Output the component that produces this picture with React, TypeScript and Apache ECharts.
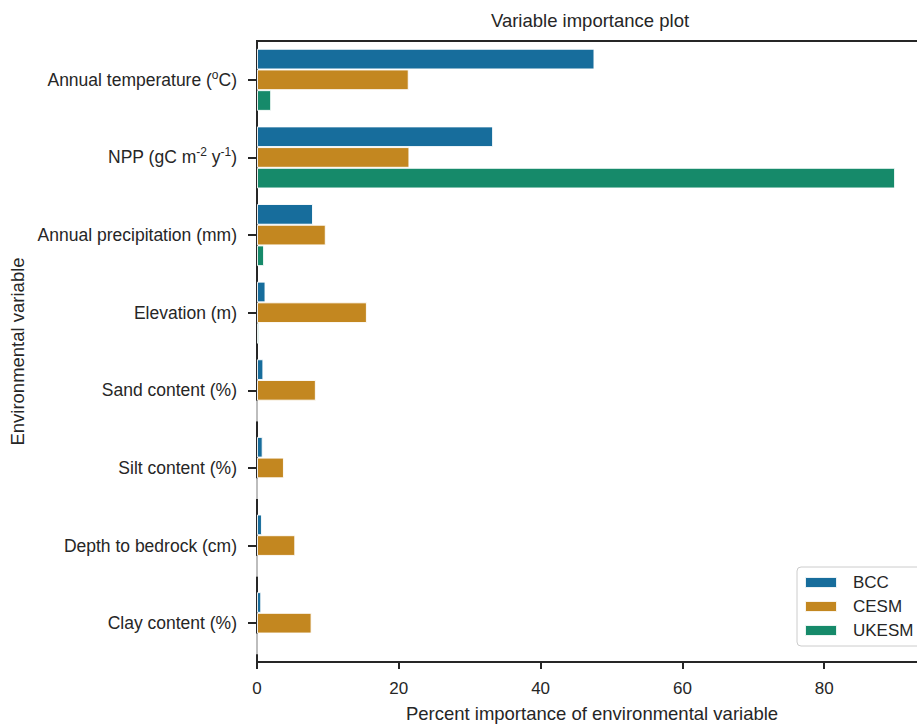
import React, { useEffect, useRef } from "react";
import * as echarts from "echarts";

const categories = [
  "Annual temperature (oC)",
  "NPP (gC m-2 y-1)",
  "Annual precipitation (mm)",
  "Elevation (m)",
  "Sand content (%)",
  "Silt content (%)",
  "Depth to bedrock (cm)",
  "Clay content (%)",
];
const seriesNames = ["BCC", "CESM", "UKESM"];
const bccValues = [47.6, 33.3, 7.9, 1.2, 0.9, 0.8, 0.7, 0.6];
const cesmValues = [21.4, 21.5, 9.7, 15.5, 8.3, 3.8, 5.4, 7.7];
const ukesmValues = [2.0, 90.0, 1.0, 0.3, 0, 0, 0, 0];
const xTicks = [0, 20, 40, 60, 80];
const colors = ["#176d9c", "#c38720", "#168a6a"];

const FONT = "'Liberation Sans', Arial, Helvetica, sans-serif";
const INK = "#262626";

function fmtLabel(v: string): string {
  if (v === "Annual temperature (oC)") {
    return "{n|Annual temperature (}{s|o}{n|C)}";
  }
  if (v === "NPP (gC m-2 y-1)") {
    return "{n|NPP (gC m}{s|-2}{n| y}{s|-1}{n|)}";
  }
  return "{n|" + v + "}";
}

export default function App() {
  const ref = useRef<HTMLDivElement>(null);
  useEffect(() => {
    if (!ref.current) return;
    const chart = echarts.init(ref.current, undefined, { renderer: "svg" });
    const allData = [bccValues, cesmValues, ukesmValues];
    chart.setOption({
      animation: false,
      backgroundColor: "#ffffff",
      textStyle: { fontFamily: FONT },
      graphic: [
        {
          type: "text",
          x: 590,
          y: 20,
          style: {
            text: "Variable importance plot",
            fontFamily: FONT,
            fontSize: 18.5,
            fill: INK,
            textAlign: "center",
            textVerticalAlign: "middle",
          },
        },
      ],
      grid: {
        left: 257,
        top: 41,
        right: 8,
        bottom: 63,
        show: true,
        borderColor: INK,
        borderWidth: 2,
        containLabel: false,
        outerBoundsMode: "none",
      },
      legend: {
        data: seriesNames,
        orient: "vertical",
        left: 797,
        top: 567,
        padding: [7, 16, 7, 7],
        itemWidth: 32,
        itemHeight: 11,
        itemGap: 7,
        icon: "rect",
        borderColor: "#cccccc",
        borderWidth: 1,
        borderRadius: 4,
        backgroundColor: "rgba(255,255,255,0.85)",
        textStyle: {
          fontFamily: FONT,
          fontSize: 17,
          color: INK,
          padding: [0, 0, 0, 11],
        },
      },
      xAxis: {
        type: "value",
        min: 0,
        max: 94.5,
        interval: 20,
        name: "Percent importance of environmental variable",
        nameLocation: "middle",
        nameGap: 42,
        nameTextStyle: { fontFamily: FONT, fontSize: 18.5, color: INK },
        axisLine: { show: true, lineStyle: { color: INK, width: 2 } },
        axisTick: {
          show: true,
          length: 7,
          lineStyle: { color: INK, width: 2 },
          customValues: xTicks,
        },
        axisLabel: {
          fontFamily: FONT,
          fontSize: 17,
          color: INK,
          margin: 18,
          customValues: xTicks,
        },
        splitLine: { show: false },
      },
      yAxis: {
        type: "category",
        inverse: true,
        data: categories,
        name: "Environmental variable",
        nameLocation: "middle",
        nameRotate: 90,
        nameGap: 230,
        nameTextStyle: { fontFamily: FONT, fontSize: 18.5, color: INK },
        axisLine: { show: true, lineStyle: { color: INK, width: 2 } },
        axisTick: {
          show: true,
          alignWithLabel: true,
          length: 9,
          lineStyle: { color: INK, width: 2 },
        },
        axisLabel: {
          margin: 20,
          formatter: fmtLabel,
          rich: {
            n: { fontFamily: FONT, fontSize: 17.5, color: INK, lineHeight: 22 },
            s: {
              fontFamily: FONT,
              fontSize: 12,
              color: INK,
              lineHeight: 13,
              verticalAlign: "top",
            },
          },
        },
      },
      series: seriesNames.map((name, i) => ({
        name,
        type: "bar",
        data: allData[i],
        barCategoryGap: "20%",
        barGap: "0%",
        itemStyle: {
          color: colors[i],
          borderColor: "rgba(255,255,255,0.9)",
          borderWidth: 1,
        },
      })),
    });
    return () => chart.dispose();
  }, []);
  return (
    <div
      style={{
        position: "fixed",
        left: 0,
        top: 0,
        width: 917,
        height: 725,
        overflow: "hidden",
        background: "#fff",
      }}
    >
      <div ref={ref} style={{ width: 935, height: 725 }} />
    </div>
  );
}
